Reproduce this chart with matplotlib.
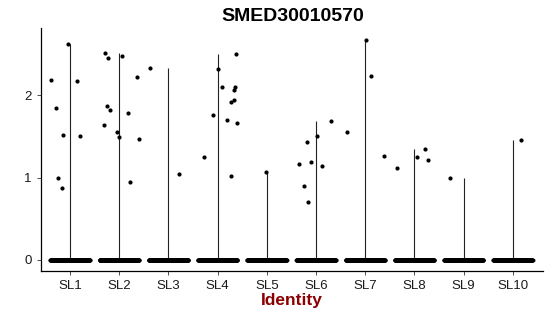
import numpy as np
import matplotlib.pyplot as plt

plt.rcParams['font.family'] = ['Liberation Sans', 'DejaVu Sans']

# clusters and expression values (non-zero cells)
clusters = ["SL1", "SL2", "SL3", "SL4", "SL5", "SL6", "SL7", "SL8", "SL9", "SL10"]

expr = {
    "SL1": [2.185, 2.63, 1.846, 2.17, 1.515, 1.51, 0.998, 0.87],
    "SL2": [2.51, 2.45, 2.48, 1.87, 1.82, 1.64, 1.555, 1.49, 1.785, 2.23, 1.467, 0.95],
    "SL3": [2.335, 1.04],
    "SL4": [2.32, 2.50, 2.10, 2.10, 2.07, 1.95, 1.92, 1.76, 1.70, 1.67, 1.25, 1.02],
    "SL5": [1.067],
    "SL6": [1.167, 1.435, 1.51, 1.69, 1.196, 1.14, 0.897, 0.71],
    "SL7": [2.68, 2.24, 1.55, 1.27],
    "SL8": [1.12, 1.25, 1.35, 1.22],
    "SL9": [0.994],
    "SL10": [1.46],
}

# horizontal jitter of the non-zero points (same order as above)
jitter = {
    "SL1": [-0.38, -0.04, -0.29, 0.14, -0.15, 0.2, -0.25, -0.16],
    "SL2": [-0.28, -0.22, 0.05, -0.25, -0.18, -0.31, -0.05, -0.01, 0.18, 0.36, 0.4, 0.22],
    "SL3": [-0.37, 0.22],
    "SL4": [0.0, 0.37, 0.09, 0.35, 0.33, 0.34, 0.27, -0.09, 0.2, 0.39, -0.28, 0.28],
    "SL5": [-0.02],
    "SL6": [-0.35, -0.19, 0.03, 0.3, -0.11, 0.13, -0.25, -0.16],
    "SL7": [0.02, 0.11, -0.37, 0.39],
    "SL8": [-0.35, 0.05, 0.21, 0.27],
    "SL9": [-0.28],
    "SL10": [0.17],
}

# number of zero-expression cells per cluster (estimated)
zero_counts = [250, 300, 280, 220, 260, 240, 230, 220, 210, 190]

fig = plt.figure(figsize=(5.5, 3.16), dpi=100)
ax = fig.add_axes([0.0745, 0.1424, 0.9125, 0.769])

for i, cl in enumerate(clusters):
    xc = i + 1
    vals = expr[cl]
    # collapsed violin -> thin line from 0 to max
    ax.vlines(xc, 0, max(vals), color="#222222", lw=0.8, zorder=1)
    # zero cells
    zx = xc + np.linspace(-0.4, 0.4, zero_counts[i])
    ax.scatter(zx, np.zeros(len(zx)), s=8, color="black", linewidths=0, zorder=2)
    # non-zero cells
    ax.scatter(xc + np.array(jitter[cl]), vals, s=9, color="black", linewidths=0, zorder=3)

ax.set_xlim(0.41, 10.61)
ax.set_ylim(-0.134, 2.82)
ax.set_xticks(range(1, len(clusters) + 1))
ax.set_xticklabels(clusters)
ax.set_yticks([0, 1, 2])
ax.set_yticklabels(["0", "1", "2"])
ax.tick_params(labelsize=9.5, labelcolor="#1a1a1a", color="#333333", length=3, width=0.6)

for s in ["top", "right"]:
    ax.spines[s].set_visible(False)
for s in ["left", "bottom"]:
    ax.spines[s].set_linewidth(0.9)
    ax.spines[s].set_color("black")

ax.set_xlabel("Identity", fontsize=12.5, fontweight="bold", color="#8b0000", labelpad=1)
fig.text(0.533, 0.949, "SMED30010570", fontsize=14, fontweight="bold", ha="center", va="center")

fig.savefig("out.png", dpi=100)
